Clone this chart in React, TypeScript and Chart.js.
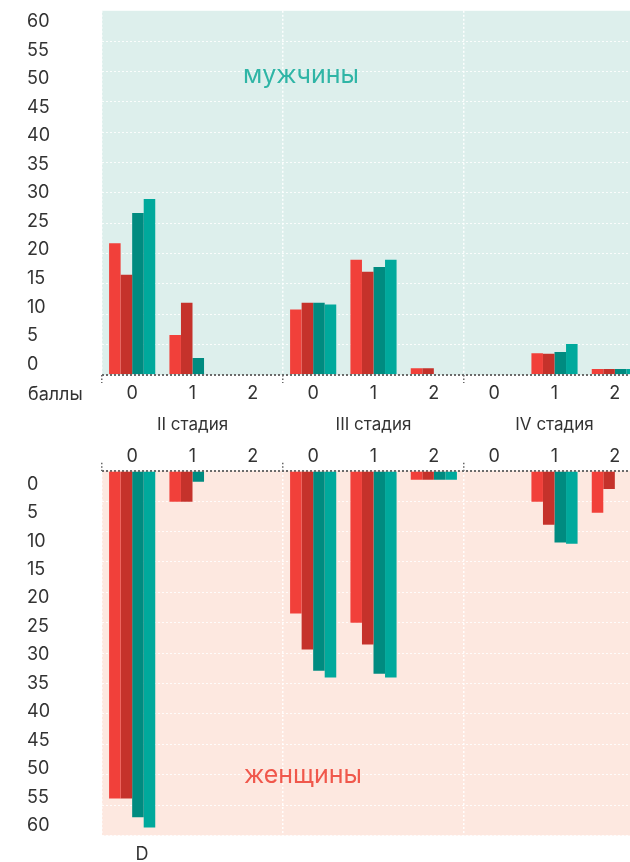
import React, { useEffect, useRef } from 'react';
import { Chart, registerables } from 'chart.js';

Chart.register(...registerables);

// ---- data ----
const SCORES = ['0', '1', '2', '0', '1', '2', '0', '1', '2'];
const STAGES = ['II стадия', 'III стадия', 'IV стадия'];
const Y_TICKS = [0, 5, 10, 15, 20, 25, 30, 35, 40, 45, 50, 55, 60];
const SERIES_NAMES = ['ряд 1', 'ряд 2', 'ряд 3', 'ряд 4'];

const MEN_1 = [21.7, 6.6, 0, 10.8, 19.0, 1.1, 0, 3.6, 1.0];
const MEN_2 = [16.5, 11.9, 0, 11.9, 17.0, 1.1, 0, 3.5, 1.0];
const MEN_3 = [26.7, 2.8, 0, 11.9, 17.8, 0, 0, 3.8, 1.0];
const MEN_4 = [29.0, 0, 0, 11.6, 19.0, 0, 0, 5.1, 1.0];

const WOMEN_1 = [53.9, 5.1, 0, 23.5, 25.0, 1.5, 0, 5.1, 6.9];
const WOMEN_2 = [53.9, 5.1, 0, 29.4, 28.6, 1.5, 0, 8.9, 3.0];
const WOMEN_3 = [57.0, 1.8, 0, 32.9, 33.4, 1.5, 0, 11.8, 0];
const WOMEN_4 = [58.7, 0, 0, 34.0, 34.0, 1.5, 0, 12.0, 0];

const COLORS = ['#f1403a', '#c5322b', '#008b80', '#00a99c'];
const FONT = 'Inter, "Noto Sans", sans-serif';
const TEXT = '#333333';

function datasets(series: number[][]) {
  return series.map((d, i) => ({
    label: SERIES_NAMES[i],
    data: d,
    backgroundColor: COLORS[i],
    borderWidth: 0,
    barPercentage: 1,
    categoryPercentage: 0.765,
    xAxisID: 'x',
    yAxisID: 'y',
  }));
}

const bgPlugin = (color: string) => ({
  id: 'panelBg',
  beforeDraw(chart: any) {
    const { ctx, chartArea } = chart;
    ctx.save();
    ctx.fillStyle = color;
    ctx.fillRect(chartArea.left, chartArea.top, chartArea.right - chartArea.left, chartArea.bottom - chartArea.top);
    ctx.restore();
  },
});

type TextItem = { text: string; x: number; y: number; font: string; color: string; align: CanvasTextAlign };
const textPlugin = (items: TextItem[]) => ({
  id: 'panelText',
  afterDraw(chart: any) {
    const { ctx } = chart;
    ctx.save();
    ctx.textBaseline = 'alphabetic';
    items.forEach((it) => {
      ctx.font = it.font;
      ctx.fillStyle = it.color;
      ctx.textAlign = it.align;
      ctx.fillText(it.text, it.x, it.y);
    });
    ctx.restore();
  },
});

function xGrid() {
  return {
    offset: true,
    drawOnChartArea: true,
    color: (c: any) => (c.index % 3 === 0 ? 'rgba(255,255,255,0.9)' : 'rgba(0,0,0,0)'),
    lineWidth: 1.5,
    drawTicks: true,
    tickLength: 8,
    tickWidth: 1.5,
    tickColor: (c: any) => (c.index % 3 === 0 ? '#666666' : 'rgba(0,0,0,0)'),
    tickBorderDash: [1.5, 2],
  };
}

function yGrid(hideTop: boolean) {
  return {
    drawTicks: false,
    color: (c: any) => {
      const v = c.tick ? c.tick.value : -1;
      if (v === 0) return '#6b6b6b';
      if (v === 60 && hideTop) return 'rgba(0,0,0,0)';
      return 'rgba(255,255,255,0.85)';
    },
    lineWidth: (c: any) => (c.tick && c.tick.value === 0 ? 2 : 1),
  };
}

function labelAxis(min: number, max: number, reverse: boolean) {
  return {
    type: 'linear',
    position: 'left',
    weight: 1,
    min,
    max,
    reverse,
    grid: { display: false },
    border: { display: false },
    afterBuildTicks: (s: any) => {
      s.ticks = Y_TICKS.map((v) => ({ value: v }));
    },
    afterFit: (s: any) => {
      s.width = 75;
    },
    ticks: { autoSkip: false, crossAlign: 'far', padding: 0, color: TEXT, font: { size: 18, family: FONT } },
  };
}

export default function App() {
  const topRef = useRef<HTMLCanvasElement>(null);
  const botRef = useRef<HTMLCanvasElement>(null);

  useEffect(() => {
    Chart.defaults.font.family = FONT;
    const top = new Chart(topRef.current as HTMLCanvasElement, {
      type: 'bar',
      data: { labels: SCORES, datasets: datasets([MEN_1, MEN_2, MEN_3, MEN_4]) as any },
      options: {
        responsive: false,
        animation: false,
        layout: { padding: { left: 27, right: 15, top: 10, bottom: 0 } },
        plugins: { legend: { display: false }, tooltip: { enabled: false } },
        scales: {
          x: {
            type: 'category',
            position: 'bottom',
            offset: true,
            weight: 0,
            grid: xGrid() as any,
            border: { display: false, dash: [2, 2] },
            ticks: { color: TEXT, font: { size: 18, family: FONT }, padding: 0, maxRotation: 0, autoSkip: false },
            afterFit: (s: any) => {
              s.height = 30;
            },
          },
          xs: {
            type: 'category',
            labels: STAGES,
            position: 'bottom',
            offset: true,
            weight: 1,
            grid: { display: false },
            border: { display: false },
            ticks: { color: TEXT, font: { size: 17, family: FONT }, padding: 1.5, maxRotation: 0, autoSkip: false },
            afterFit: (s: any) => {
              s.height = 35;
            },
          },
          y: {
            type: 'linear',
            position: 'left',
            weight: 0,
            min: 0,
            max: 60,
            z: 1,
            grid: yGrid(true) as any,
            border: { display: false, dash: [2, 2] },
            ticks: { display: false, stepSize: 5 },
            afterFit: (s: any) => {
              s.width = 0;
            },
          },
          yl: labelAxis(-1.89, 61.92, false) as any,
        },
      },
      plugins: [
        bgPlugin('#ddefec'),
        textPlugin([
          { text: 'мужчины', x: 301, y: 83, font: `25px ${FONT}`, color: '#2fb5a6', align: 'center' },
          { text: 'баллы', x: 28, y: 400, font: `18px ${FONT}`, color: TEXT, align: 'left' },
        ]),
      ],
    });

    const bot = new Chart(botRef.current as HTMLCanvasElement, {
      type: 'bar',
      data: { labels: SCORES, datasets: datasets([WOMEN_1, WOMEN_2, WOMEN_3, WOMEN_4]) as any },
      options: {
        responsive: false,
        animation: false,
        layout: { padding: { left: 27, right: 15, top: 0, bottom: 26.5 } },
        plugins: { legend: { display: false }, tooltip: { enabled: false } },
        scales: {
          x: {
            type: 'category',
            position: 'top',
            offset: true,
            grid: xGrid() as any,
            border: { display: false, dash: [2, 2] },
            ticks: { color: TEXT, font: { size: 18, family: FONT }, padding: -5, maxRotation: 0, autoSkip: false },
            afterFit: (s: any) => {
              s.height = 30.7;
            },
          },
          y: {
            type: 'linear',
            position: 'left',
            weight: 0,
            min: 0,
            max: 60,
            reverse: true,
            z: 1,
            grid: yGrid(false) as any,
            border: { display: false, dash: [2, 2] },
            ticks: { display: false, stepSize: 5 },
            afterFit: (s: any) => {
              s.width = 0;
            },
          },
          yl: labelAxis(-2.37, 61.7, true) as any,
        },
      },
      plugins: [
        bgPlugin('#fde8e0'),
        textPlugin([
          { text: 'женщины', x: 303, y: 343, font: `25px ${FONT}`, color: '#f0584c', align: 'center' },
          { text: 'D', x: 142, y: 420, font: `18px ${FONT}`, color: TEXT, align: 'center' },
        ]),
      ],
    });

    return () => {
      top.destroy();
      bot.destroy();
    };
  }, []);

  return (
    <div style={{ position: 'fixed', left: 0, top: 0, width: 630, height: 862, overflow: 'hidden', background: '#fff' }}>
      <canvas ref={topRef} width={660} height={440} style={{ position: 'absolute', left: 0, top: 0, width: 660, height: 440 }} />
      <canvas ref={botRef} width={660} height={422} style={{ position: 'absolute', left: 0, top: 440, width: 660, height: 422 }} />
    </div>
  );
}
